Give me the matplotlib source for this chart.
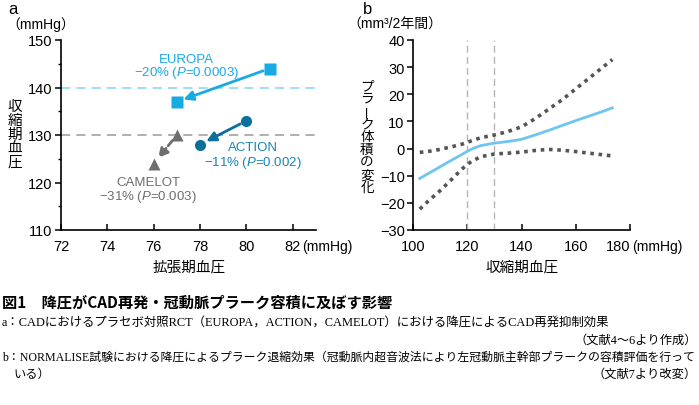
import numpy as np
import matplotlib
matplotlib.use("Agg")
import matplotlib.pyplot as plt

plt.rcParams['font.family'] = ['Liberation Sans', 'Noto Sans CJK JP']
plt.rcParams['mathtext.fontset'] = 'custom'
plt.rcParams['mathtext.it'] = 'Liberation Sans:italic'
plt.rcParams['mathtext.rm'] = 'Liberation Sans'

# panel a: trials (diastolic, systolic) placebo -> active
trials = ['EUROPA', 'ACTION', 'CAMELOT']
dia_start = [81, 80, 77]
sys_start = [144, 133, 130]
dia_end = [77, 78, 76]
sys_end = [137, 128, 124]
effect_txt = ['−20% ($\\mathit{P}$=0.0003)', '−11% ($\\mathit{P}$=0.002)', '−31% ($\\mathit{P}$=0.003)']

# panel b: plaque volume change vs systolic BP
sbp = [102.5, 106, 110, 114, 118, 120, 122, 125, 130, 135, 140, 145, 150, 155, 160, 165, 170, 173.5]
mean_chg = [-11, -9, -6.7, -4.4, -2.2, -1, 0, 1.1, 2, 2.6, 3.4, 5, 6.7, 8.5, 10.3, 12, 13.7, 15]
upper_ci = [-1.4, -1, -0.3, 0.6, 1.6, 2.3, 3, 4, 5, 6.3, 8, 11, 14.5, 18, 22, 26, 30, 32.8]
lower_ci = [-22.3, -19, -15.5, -11.6, -7.6, -5.8, -4.5, -3, -2, -1.7, -1.3, -0.7, -0.3, -0.6, -1.1, -1.7, -2.3, -2.7]

W, H = 699, 406
fig = plt.figure(figsize=(W / 100, H / 100), dpi=100)


def fx(px):
    return px / W


def fy(py):
    return 1 - py / H


ax1 = fig.add_axes([fx(61), fy(231), fx(316) - fx(61), fy(41) - fy(231)])
ax2 = fig.add_axes([fx(413), fy(231), fx(630) - fx(413), fy(41) - fy(231)])

cyan = '#18abe3'
teal = '#0b6f9c'
grey = '#6e6e6e'
tsize = 10.5

for ax in (ax1, ax2):
    for s in ('top', 'right'):
        ax.spines[s].set_visible(False)
    for s in ('left', 'bottom'):
        ax.spines[s].set_linewidth(1.2)
    ax.tick_params(axis='y', direction='out', length=4, width=1.1, labelsize=tsize, pad=2)
    ax.tick_params(axis='x', direction='in', length=4, width=1.1, labelsize=tsize, pad=6.5)

# ---- panel a
ax1.set_xlim(72, 83)
ax1.set_ylim(110, 150)
ax1.set_xticks([72, 74, 76, 78, 80, 82])
ax1.set_yticks([110, 120, 130, 140, 150])
ax1.set_yticks([115, 125, 135, 145], minor=True)
ax1.tick_params(axis='y', which='minor', direction='out', length=2.5, width=1)
ax1.axhline(140, color='#86d2f2', lw=1.1, ls=(0, (6, 4)))
ax1.axhline(130, color='#9a9a9a', lw=1.1, ls=(0, (6, 4)))

colors = [cyan, teal, grey]
markers = ['s', 'o', '^']
msizes = [8, 8, 8.5]
for i in range(3):
    ls = '-' if i < 2 else (0, (2.5, 1.2))
    ax1.annotate('', xy=(dia_end[i], sys_end[i]), xytext=(dia_start[i], sys_start[i]),
                 arrowprops=dict(arrowstyle='-|>', lw=2, color=colors[i], ls=ls,
                                 mutation_scale=14, shrinkA=5, shrinkB=5))
    ax1.plot([dia_start[i], dia_end[i]], [sys_start[i], sys_end[i]], ls='none',
             marker=markers[i], ms=msizes[i], color=colors[i], mec='none')

txt_col = [cyan, '#1684b5', grey]
txt_x = [77.4, 80.28, 75.75]
txt_y1 = [146.0, 127.5, 120.1]
txt_y2 = [143.3, 124.3, 117.2]
for i in range(3):
    ax1.text(txt_x[i], txt_y1[i], trials[i], color=txt_col[i], fontsize=9.5, ha='center', va='center')
    ax1.text(txt_x[i], txt_y2[i], effect_txt[i], color=txt_col[i], fontsize=9.5, ha='center', va='center')

# ---- panel b
ax2.set_xlim(100, 180)
ax2.set_ylim(-30, 40)
ax2.set_xticks([100, 120, 140, 160, 180])
ax2.set_xticklabels(['100', '120', '140', '160', ''])
ax2.set_yticks([-30, -20, -10, 0, 10, 20, 30, 40])
ax2.axvline(120, color='#b5b5b5', lw=1, ls=(0, (5, 3)))
ax2.axvline(130, color='#b5b5b5', lw=1, ls=(0, (5, 3)))
ax2.plot(sbp, upper_ci, color='#555555', lw=2.6, ls=(0, (1, 1.3)))
ax2.plot(sbp, lower_ci, color='#555555', lw=2.6, ls=(0, (1, 1.3)))
ax2.plot(sbp, mean_chg, color='#6ec6f0', lw=2)
ax2.annotate('180', xy=(180, -30), xytext=(0.5, -6.5), textcoords='offset points',
             ha='right', va='top', fontsize=tsize, annotation_clip=False)

# ---- panel labels, units, axis titles
fig.text(fx(8), fy(10), 'a', fontsize=12, ha='left', va='center')
fig.text(fx(363), fy(10), 'b', fontsize=12, ha='left', va='center')
fig.text(fx(6), fy(25), '（mmHg）', fontsize=10, ha='left', va='center')
fig.text(fx(347), fy(25), '（mm³/2年間）', fontsize=10, ha='left', va='center')
fig.text(fx(302), fy(247), '(mmHg)', fontsize=10, ha='left', va='center')
fig.text(fx(632), fy(247), '(mmHg)', fontsize=10, ha='left', va='center')
fig.text(fx(189), fy(268), '拡張期血圧', fontsize=10.5, ha='center', va='center')
fig.text(fx(522), fy(268), '収縮期血圧', fontsize=10.5, ha='center', va='center')


def vtext(x, y0, step, s, size):
    for k, ch in enumerate(s):
        rot = 90 if ch == 'ー' else 0
        fig.text(fx(x), fy(y0 + k * step), ch, fontsize=size, ha='center', va='center',
                 rotation=rot)


vtext(15, 107, 14, '収縮期血圧', 10.5)
vtext(367, 86, 12.75, 'プラーク体積の変化', 9.8)

# ---- caption
cfam = ['Liberation Serif', 'Noto Sans CJK JP']
fig.text(fx(2), fy(303), '図1　降圧がCAD再発・冠動脈プラーク容積に及ぼす影響',
         family=['Noto Sans CJK JP'], fontsize=11, fontweight='bold', va='center')
fig.text(fx(2), fy(323), 'a：CADにおけるプラセボ対照RCT（EUROPA，ACTION，CAMELOT）における降圧によるCAD再発抑制効果',
         family=cfam, fontsize=8.95, ha='left', va='center')
fig.text(fx(697), fy(341), '（文献4～6より作成）', family=cfam, fontsize=8.8, ha='right', va='center')
fig.text(fx(2), fy(358), 'b：NORMALISE試験における降圧によるプラーク退縮効果（冠動脈内超音波法により左冠動脈主幹部プラークの容積評価を行って',
         family=cfam, fontsize=8.55, ha='left', va='center')
fig.text(fx(13), fy(375), 'いる）', family=cfam, fontsize=8.8, ha='left', va='center')
fig.text(fx(697), fy(375), '（文献7より改変）', family=cfam, fontsize=8.8, ha='right', va='center')

fig.savefig('out.png', dpi=100)
